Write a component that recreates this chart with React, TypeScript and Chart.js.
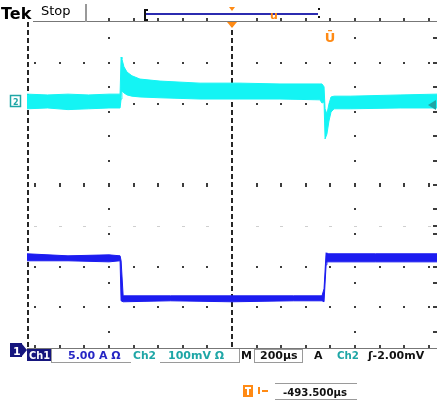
import { useEffect, useRef } from "react";
import { Chart, registerables } from "chart.js";

Chart.register(...registerables);

// Ch2 voltage envelope (min/max of each acquisition column), time in µs from screen centre
const ch2TimeUs = [-1000, -900, -800, -700, -600, -546, -541, -537, -527, -512, -488, -449, -351, -156, 39, 234, 429, 439, 449, 454, 463, 473, 483, 498, 576, 820, 1000];
const ch2HighMv = [18, 16, 18, 16, 18, 18, 109, 104, 85, 72, 63, 55, 50, 45, 45, 43, 43, 43, 36, -18, -31, -6, 11, 13, 13, 16, 18];
const ch2LowMv = [-18, -16, -20, -18, -16, -16, 6, 26, 21, 16, 13, 11, 9, 6, 6, 6, 4, -4, -1, -92, -80, -48, -26, -18, -18, -16, -16];

// Ch1 current envelope
const ch1TimeUs = [-1000, -800, -600, -546, -541, -531, -300, 0, 300, 439, 449, 459, 463, 700, 1000];
const ch1HighA = [11.66, 11.41, 11.53, 11.41, 10.8, 6.5, 6.5, 6.5, 6.5, 6.5, 7.36, 11.78, 11.66, 11.66, 11.66];
const ch1LowA = [10.8, 10.8, 10.67, 10.8, 5.89, 5.77, 5.89, 5.77, 5.89, 5.89, 5.77, 10.31, 10.67, 10.67, 10.67];

// Vertical settings (units per division) and channel positions (divisions from centre)
const timePerDivUs = 200;
const ch1AmpsPerDiv = 5;
const ch2MvPerDiv = 100;
const ch1PositionDiv = -4.02;
const ch2PositionDiv = 2.05;
const triggerTimeUs = 480;

// Readout texts
const ch1Label = "Ch1";
const ch1Scale = "5.00 A Ω";
const ch2Label = "Ch2";
const ch2Scale = "100mV Ω";
const timebaseLabel = "200µs";
const triggerSource = "Ch2";
const triggerLevel = "ʃ-2.00mV";
const triggerOffset = "-493.500µs";

const CYAN = "#14f4f4";
const BLUE = "#1c1cf0";
const NAVY = "#16167e";
const TEAL = "#1ea6a6";
const ORANGE = "#ff8a14";
const FONT = "'DejaVu Sans', sans-serif";

const toPoints = (t: number[], v: number[], perDiv: number, pos: number) =>
  t.map((time, i) => ({ x: time, y: pos + v[i] / perDiv }));

const scopePlugin = {
  id: "scopeScreen",
  beforeDatasetsDraw(chart: any) {
    const { ctx, chartArea: a, scales } = chart;
    const px = (t: number) => Math.round(scales.x.getPixelForValue(t));
    const py = (d: number) => Math.round(scales.y.getPixelForValue(d));
    const step = 0.6 * timePerDivUs;
    const dotTimes: number[] = [];
    for (let k = -8; k <= 8; k++) if (k !== 0) dotTimes.push(k * step);
    ctx.save();
    // graticule rows
    const rows = [3, 2, -2, -3];
    ctx.fillStyle = "#3c3c3c";
    rows.forEach((d) => dotTimes.forEach((t) => ctx.fillRect(px(t) - 1, py(d) - 1, 2, 2)));
    dotTimes.forEach((t) => ctx.fillRect(px(t) - 1, py(0) - 2, 2, 4));
    ctx.fillStyle = "#cfcfcf";
    dotTimes.forEach((t) => ctx.fillRect(px(t) - 1, py(-1), 3, 1));
    // graticule columns
    ctx.fillStyle = "#3c3c3c";
    for (let k = -6; k <= 6; k++) {
      if (k === 0) continue;
      const yy = py(k * 0.6);
      [-3 * timePerDivUs, 3 * timePerDivUs].forEach((t) => ctx.fillRect(px(t) - 1, yy - 1, 2, 2));
      ctx.fillRect(a.right - 4, yy - 1, 4, 2);
    }
    [3, 2, 0, -1, -2, -3].forEach((d) => ctx.fillRect(a.right - 4, py(d) - 1, 4, 2));
    // centre vertical and left edge
    ctx.strokeStyle = "#262626";
    ctx.lineWidth = 2;
    ctx.setLineDash([5, 3]);
    ctx.beginPath();
    ctx.moveTo(px(0), a.top);
    ctx.lineTo(px(0), a.bottom);
    ctx.moveTo(a.left + 1, a.top);
    ctx.lineTo(a.left + 1, a.bottom);
    ctx.stroke();
    ctx.setLineDash([]);
    ctx.restore();
  },
  afterDraw(chart: any) {
    const { ctx, chartArea: a, scales } = chart;
    const px = (t: number) => Math.round(scales.x.getPixelForValue(t));
    const step = 0.6 * timePerDivUs;
    const dotTimes: number[] = [];
    for (let k = -8; k <= 8; k++) if (k !== 0) dotTimes.push(k * step);
    ctx.save();
    ctx.textBaseline = "alphabetic";

    // rulers at top and bottom
    ctx.fillStyle = "#777";
    ctx.fillRect(33, a.top - 1, a.right - 33, 1);
    ctx.fillRect(a.left, a.bottom, a.right - a.left, 1);
    ctx.fillStyle = "#444";
    dotTimes.forEach((t) => {
      ctx.fillRect(px(t) - 1, a.top - 4, 2, 3);
      ctx.fillRect(px(t) - 1, a.bottom - 3, 2, 3);
    });

    // header
    ctx.fillStyle = "#000";
    ctx.font = `bold 16px ${FONT}`;
    ctx.fillText("Tek", 1, 19);
    ctx.fillStyle = "#fff";
    ctx.fillRect(33, 0, 53, 21);
    ctx.fillStyle = "#000";
    ctx.font = `13px ${FONT}`;
    ctx.fillText("Stop", 41, 15);
    ctx.fillStyle = "#999";
    ctx.fillRect(85, 4, 2, 18);

    // record bar
    ctx.fillStyle = "#2b2bb0";
    ctx.fillRect(146, 13, 172, 2);
    ctx.fillStyle = "#111";
    ctx.fillRect(144, 9, 2, 12);
    ctx.fillRect(144, 9, 4, 2);
    ctx.fillRect(144, 19, 4, 2);
    ctx.fillRect(318, 8, 2, 2);
    ctx.fillRect(318, 16, 2, 2);
    ctx.fillStyle = ORANGE;
    ctx.beginPath();
    ctx.moveTo(229, 7);
    ctx.lineTo(235, 7);
    ctx.lineTo(232, 11);
    ctx.closePath();
    ctx.fill();
    ctx.font = `bold 11px ${FONT}`;
    ctx.textAlign = "center";
    ctx.fillText("u", 274, 19);

    // trigger position and trigger point markers
    const tc = px(0);
    ctx.beginPath();
    ctx.moveTo(tc - 5, a.top);
    ctx.lineTo(tc + 5, a.top);
    ctx.lineTo(tc, a.top + 6);
    ctx.closePath();
    ctx.fill();
    ctx.font = `bold 13px ${FONT}`;
    ctx.fillText("Ū", px(triggerTimeUs), 42);
    ctx.textAlign = "left";

    // channel ground markers
    const g2 = Math.round(scales.y.getPixelForValue(ch2PositionDiv));
    ctx.strokeStyle = TEAL;
    ctx.lineWidth = 1.5;
    ctx.strokeRect(10.5, g2 - 5.5, 10, 11);
    ctx.fillStyle = TEAL;
    ctx.font = `bold 8px ${FONT}`;
    ctx.fillText("2", 13, g2 + 4);
    ctx.fillStyle = NAVY;
    ctx.fillRect(10, 343, 12, 14);
    ctx.beginPath();
    ctx.moveTo(22, 344);
    ctx.lineTo(27, 350);
    ctx.lineTo(22, 356);
    ctx.closePath();
    ctx.fill();
    ctx.fillStyle = "#fff";
    ctx.font = `bold 11px ${FONT}`;
    ctx.fillText("1", 13, 355);

    // trigger level arrow
    ctx.fillStyle = TEAL;
    ctx.beginPath();
    ctx.moveTo(428, 105);
    ctx.lineTo(436, 100);
    ctx.lineTo(436, 110);
    ctx.closePath();
    ctx.fill();

    // readouts, first line
    ctx.fillStyle = NAVY;
    ctx.fillRect(27, 349, 24, 12);
    ctx.fillStyle = "#fff";
    ctx.font = `bold 11px ${FONT}`;
    ctx.fillText(ch1Label, 29, 359, 21);
    ctx.fillStyle = "#9a9a9a";
    ctx.fillRect(51, 349, 1, 14);
    ctx.fillRect(51, 362, 80, 1);
    ctx.fillRect(160, 362, 80, 1);
    ctx.fillRect(239, 349, 1, 14);
    ctx.strokeStyle = "#9a9a9a";
    ctx.lineWidth = 1;
    ctx.strokeRect(254.5, 349.5, 48, 13);
    ctx.font = `bold 11px ${FONT}`;
    ctx.fillStyle = "#2626c4";
    ctx.fillText(ch1Scale, 68, 359, 62);
    ctx.fillStyle = TEAL;
    ctx.fillText(ch2Label, 133, 359, 23);
    ctx.fillText(ch2Scale, 168, 359, 70);
    ctx.fillStyle = "#111";
    ctx.fillText("M", 241, 359, 12);
    ctx.fillText(timebaseLabel, 260, 359, 38);
    ctx.fillText("A", 314, 359, 9);
    ctx.fillStyle = TEAL;
    ctx.fillText(triggerSource, 337, 359, 22);
    ctx.fillStyle = "#111";
    ctx.fillText(triggerLevel, 368, 359, 69);

    // readouts, second line
    ctx.fillStyle = ORANGE;
    ctx.fillRect(243, 385, 10, 12);
    ctx.fillStyle = "#fff";
    ctx.fillRect(245, 387, 6, 2);
    ctx.fillRect(247, 387, 2, 8);
    ctx.fillStyle = ORANGE;
    ctx.fillRect(258, 387, 2, 7);
    ctx.fillRect(262, 390, 6, 2);
    ctx.fillStyle = "#9a9a9a";
    ctx.fillRect(275, 383, 82, 1);
    ctx.fillRect(275, 399, 82, 1);
    ctx.fillStyle = "#111";
    ctx.fillText(triggerOffset, 283, 396, 64);
    ctx.restore();
  },
};

export default function App() {
  const ref = useRef<HTMLCanvasElement>(null);
  useEffect(() => {
    if (!ref.current) return;
    const band = (pts: any[], color: string, fill: any) => ({
      data: pts,
      borderColor: color,
      backgroundColor: color,
      borderWidth: 1,
      pointRadius: 0,
      tension: 0,
      fill,
    });
    const chart = new Chart(ref.current, {
      type: "line",
      data: {
        datasets: [
          band(toPoints(ch2TimeUs, ch2HighMv, ch2MvPerDiv, ch2PositionDiv), CYAN, "+1"),
          band(toPoints(ch2TimeUs, ch2LowMv, ch2MvPerDiv, ch2PositionDiv), CYAN, false),
          band(toPoints(ch1TimeUs, ch1HighA, ch1AmpsPerDiv, ch1PositionDiv), BLUE, "+1"),
          band(toPoints(ch1TimeUs, ch1LowA, ch1AmpsPerDiv, ch1PositionDiv), BLUE, false),
        ],
      },
      options: {
        responsive: false,
        animation: false,
        devicePixelRatio: 1,
        layout: { padding: { left: 27, top: 22, right: 0, bottom: 55 } },
        plugins: { legend: { display: false }, tooltip: { enabled: false } },
        scales: {
          x: { type: "linear", min: -5 * timePerDivUs, max: 5 * timePerDivUs, display: false },
          y: { type: "linear", min: -4, max: 4, display: false },
        },
      },
      plugins: [scopePlugin],
    });
    return () => chart.destroy();
  }, []);
  return (
    <div style={{ position: "fixed", left: 0, top: 0, background: "#fff" }}>
      <canvas ref={ref} width={437} height={403} style={{ display: "block" }} />
    </div>
  );
}
